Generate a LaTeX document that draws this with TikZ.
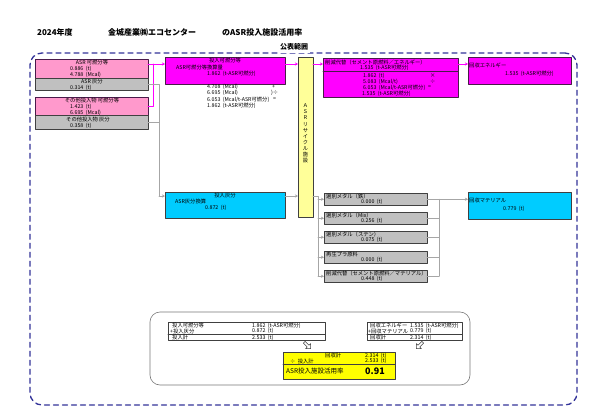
\documentclass[tikz,border=0pt]{standalone}
\usepackage{fontspec}
\setmainfont{Noto Sans CJK JP}
\usepackage{tikz}
\usetikzlibrary{arrows.meta,shapes.arrows}
\definecolor{mgfill}{HTML}{FF00FF}
\definecolor{pkfill}{HTML}{FF99CC}
\definecolor{grfill}{HTML}{C0C0C0}
\definecolor{cyfill}{HTML}{00CCFF}
\definecolor{ylfill}{HTML}{FFFF99}
\definecolor{ylres}{HTML}{FFFF00}
\definecolor{mgedge}{HTML}{4A1A4A}
\definecolor{dkedge}{HTML}{404040}
\definecolor{pubnavy}{HTML}{333399}
\definecolor{conngray}{HTML}{A6A6A6}
\newcommand\boxfont{\fontsize{5.3}{6}\selectfont}
\newcommand\hdrfont{\bfseries\fontsize{8}{9}\selectfont}

\begin{document}
\begin{tikzpicture}[line cap=round,line join=round,x=1pt,y=-1pt,
  box/.style={line width=0.9pt,inner sep=0pt,outer sep=0pt,anchor=north west},
  mgbox/.style={box,draw=mgedge,fill=mgfill},
  pkbox/.style={box,draw=mgedge,fill=pkfill},
  grbox/.style={box,draw=dkedge,fill=grfill},
  cybox/.style={box,draw=dkedge,fill=cyfill},
  ylbox/.style={box,draw=dkedge,fill=ylfill},
  resbox/.style={box,draw=dkedge,fill=ylres},
  sumbox/.style={box,draw=dkedge,line width=0.6pt,fill=white},
  txt/.style={inner sep=0pt,anchor=west,font=\boxfont},
  ctxt/.style={inner sep=0pt,font=\boxfont},
  hdr/.style={inner sep=0pt,anchor=west,font=\hdrfont},
  mgline/.style={draw=mgfill,line width=0.8pt},
  grline/.style={draw=conngray,line width=0.8pt},
  tip/.style={-{Stealth[length=3pt,width=3pt]}},
  harrow/.style={single arrow,draw=dkedge,fill=white,line width=0.5pt,
    minimum height=9pt,minimum width=7pt,single arrow head extend=1.5pt,inner sep=0.6pt}
]
\fill[white] (0,0) rectangle (600,418);
\useasboundingbox (0,0) rectangle (600,418);

% title line
\node[hdr] (year) at (37,32) {2024年度};
\node[hdr] (firm) at (108,32) {金城産業㈱エコセンター};
\node[hdr] (ttl) at (222,32) {のASR投入施設活用率};

% public range frame
\node[box,draw=pubnavy,line width=1.3pt,dash pattern=on 5pt off 4pt,rounded corners=12pt,
  minimum width=547pt,minimum height=352pt] (pub) at (30,53) {};
\node[hdr,anchor=center,fill=white,inner xsep=2pt,inner ysep=3pt,font=\bfseries\fontsize{7}{8}\selectfont] (publbl) at (294,47) {公表範囲};

% input boxes
\node[pkbox,minimum width=113pt,minimum height=19pt] (asrc) at (35,59) {};
\node[grbox,minimum width=113pt,minimum height=12pt] (asra) at (35,78) {};
\node[pkbox,minimum width=113pt,minimum height=18pt] (othc) at (35,97) {};
\node[grbox,minimum width=113pt,minimum height=14pt] (otha) at (35,115) {};
\node[ctxt] at (92,62) {ASR~可燃分等};
\node[txt] at (70,68.5) {0.886~~(t)};
\node[txt] at (70,74.5) {4.788~~(Mcal)};
\node[ctxt] at (92,81.5) {ASR~灰分};
\node[txt] at (70,87.5) {0.314~~(t)};
\node[ctxt] at (92,100.5) {その他投入物~可燃分等};
\node[txt] at (70,106.5) {1.423~~(t)};
\node[txt] at (70,112.5) {6.695~~(Mcal)};
\node[ctxt] at (88,119.5) {その他投入物~灰分};
\node[txt] at (70,125.5) {0.358~~(t)};

% conversion boxes
\node[mgbox,minimum width=120pt,minimum height=27pt] (inmg) at (165,57) {};
\node[ctxt] at (225,60.5) {投入可燃分等};
\node[txt] at (176,67) {ASR可燃分等換算量};
\node[txt] at (207,74) {1.862~~(t-ASR可燃分)};
\node[txt] at (207,87) {4.708~~(Mcal)};
\node[txt] at (272,87) {+};
\node[txt] at (207,93) {6.695~~(Mcal)};
\node[txt] at (271,93) {)÷};
\node[txt] at (207,99.5) {6.053~~(Mcal/t-ASR可燃分)};
\node[txt] at (273,99.5) {=};
\node[txt] at (207,106) {1.862~~(t-ASR可燃分)};

\node[cybox,minimum width=120pt,minimum height=26pt] (ashin) at (165,192) {};
\node[ctxt] at (225,195) {投入灰分};
\node[txt] at (175,201) {ASR灰分換算};
\node[txt] at (205,208) {0.872~~(t)};

% plant
\node[ylbox,minimum width=15pt,minimum height=160pt] (plant) at (298,57) {};
\node[ctxt,align=center,font=\fontsize{5.2}{6.1}\selectfont] (plantlbl) at (305.5,133.5)
  {Ａ\\Ｓ\\Ｒ\\リ\\サ\\イ\\ク\\ル\\施\\設};

% energy side
\node[mgbox,minimum width=135pt,minimum height=39pt] (subst) at (323,58) {};
\draw[draw=mgedge,line width=0.7pt] (subst.west |- 0,71.5) -- (subst.east |- 0,71.5);
\node[txt] at (325,62) {削減代替（セメント原燃料／エネルギー）};
\node[txt] at (360,67.5) {1.535~~(t-ASR可燃分)};
\node[txt] at (363,75.5) {1.862~~(t)};
\node[txt] at (430,75.5) {×};
\node[txt] at (363,81.5) {5.083~~(Mcal/t)};
\node[txt] at (430,81.5) {÷};
\node[txt] at (363,87.5) {6.053~~(Mcal/t-ASR可燃分)};
\node[txt] at (428,87.5) {=};
\node[txt] at (362,93.5) {1.535~~(t-ASR可燃分)};

\node[mgbox,minimum width=103pt,minimum height=27pt] (recen) at (468,57) {};
\node[txt] at (469,65.5) {回収エネルギー};
\node[txt] at (505,74) {1.535~~(t-ASR可燃分)};

% material side
\foreach \i/\yy/\ttl/\val in {1/193/選別メタル（鉄）/0.000,2/212/選別メタル（Mix）/0.256,
  3/231/選別メタル（ステン）/0.075,4/251/再生プラ原料/0.000,
  5/270/削減代替（セメント原燃料／マテリアル）/0.448}{
  \node[grbox,minimum width=103pt,minimum height=12.5pt] (g\i) at (324,\yy) {};
  \node[txt] at (326,\yy+3) {\ttl};
  \node[txt] at (361,\yy+9) {\val~~(t)};
}
\node[cybox,minimum width=103pt,minimum height=27pt] (recmat) at (468,192) {};
\node[txt] at (469,200.5) {回収マテリアル};
\node[txt] at (503,208.5) {0.779~~(t)};

% connectors
\coordinate (mgin) at (165,64);
\coordinate (mgj) at (153,64);
\coordinate (grj) at (159,196);
\coordinate (gsplit) at (318,196);
\coordinate (gjoin) at (439,199);
\draw[mgline,tip] (asrc.east |- mgin) -- (mgin);
\draw[mgline] (othc.east) -| (mgj);
\draw[grline] (asra.east) -| (grj);
\draw[grline] (otha.east) -- (grj |- otha.east);
\draw[grline,tip] (grj) -- (ashin.west |- grj);
\draw[mgline,tip] (inmg.east |- mgin) -- (plant.west |- mgin);
\draw[grline,tip] (ashin.east |- grj) -- (plant.west |- grj);
\draw[mgline,tip] (plant.east |- mgin) -- (subst.west |- mgin);
\draw[mgline,tip] (subst.east |- mgin) -- (recen.west |- mgin);
\draw[grline] (plant.east |- gsplit) -- (gsplit) -- (gsplit |- g5.west);
\foreach \i in {1,...,5}{
  \draw[grline,tip] (gsplit |- g\i.west) -- (g\i.west);
  \draw[grline] (g\i.east) -- (gjoin |- g\i.east);
}
\draw[grline] (gjoin |- g1.east) -- (gjoin |- g5.east);
\draw[grline,tip] (gjoin |- g1.east) -- (recmat.west |- g1.east);

% summary
\node[box,draw=dkedge!70,line width=0.6pt,rounded corners=10pt,
  minimum width=320pt,minimum height=73pt] (summ) at (150,312) {};
\node[sumbox,minimum width=157pt,minimum height=18pt] (insum) at (168,322) {};
\draw[dkedge,line width=0.6pt] (insum.west |- 0,334.5) -- (insum.east |- 0,334.5);
\node[txt] at (172,325.5) {投入可燃分等};
\node[txt] at (252,325.5) {1.862~~(t-ASR可燃分)};
\node[txt] at (170,331) {+投入灰分};
\node[txt] at (252,331) {0.872~~(t)};
\node[txt] at (172,337.5) {投入計};
\node[txt] at (252,337.5) {2.533~~(t)};

\node[sumbox,minimum width=95pt,minimum height=18pt] (outsum) at (367,322) {};
\draw[dkedge,line width=0.6pt] (outsum.west |- 0,334.5) -- (outsum.east |- 0,334.5);
\node[txt] at (370,325.5) {回収エネルギー};
\node[txt] at (410,325.5) {1.535~~(t-ASR可燃分)};
\node[txt] at (368,331) {+回収マテリアル};
\node[txt] at (410,331) {0.779~~(t)};
\node[txt] at (370,337.5) {回収計};
\node[txt] at (410,337.5) {2.314~~(t)};

\node[harrow,rotate=-45] (hl) at (307,345) {};
\node[harrow,rotate=-135] (hr) at (420,345) {};

\node[resbox,minimum width=112pt,minimum height=27pt] (res) at (283,352) {};
\draw[dkedge,line width=0.6pt] (res.west |- 0,364.5) -- (res.east |- 0,364.5);
\node[txt] at (325,355.5) {回収計};
\node[txt] at (365,355.5) {2.314~~(t)};
\node[txt] at (290,361) {÷~~投入計};
\node[txt] at (365,361) {2.533~~(t)};
\node[txt,font=\fontsize{6.5}{7}\selectfont] at (286,371.5) {ASR投入施設活用率};
\node[txt,font=\bfseries\fontsize{9}{10}\selectfont] at (365,371.5) {0.91};
\end{tikzpicture}
\end{document}
